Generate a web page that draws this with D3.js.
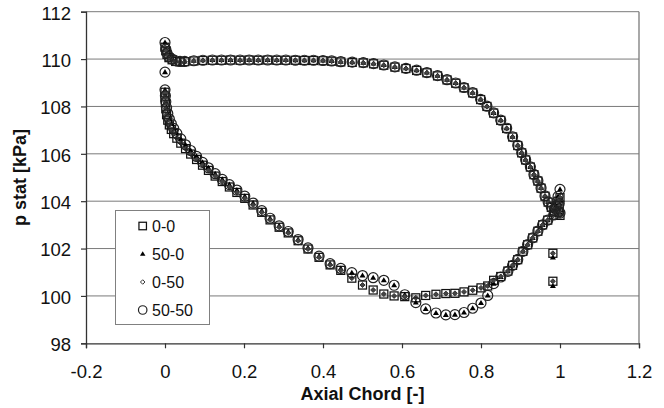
<!DOCTYPE html>
<html><head><meta charset="utf-8">
<script src="https://cdn.jsdelivr.net/npm/d3@7"></script>
<style>html,body{margin:0;padding:0;background:#fff;}svg{display:block;}</style>
</head><body>
<svg id="chart" width="664" height="408"></svg>
<script>
// ---------- data ----------
const seriesNames = ["0-0", "50-0", "0-50", "50-50"];
const xTicks = [-0.2, 0, 0.2, 0.4, 0.6, 0.8, 1, 1.2];
const xTickLabels = ["-0.2", "0", "0.2", "0.4", "0.6", "0.8", "1", "1.2"];
const yTicks = [98, 100, 102, 104, 106, 108, 110, 112];

// pressure side (upper branch) chord positions
const psX = [0.000,0.002,0.005,0.010,0.018,0.027,0.038,0.050,0.073,0.096,0.120,0.143,0.166,0.190,0.213,0.236,0.260,0.283,0.306,0.330,0.353,0.376,0.400,0.422,0.445,0.474,0.502,0.528,0.554,0.582,0.610,0.637,0.663,0.690,0.714,0.736,0.757,0.779,0.799,0.815,0.832,0.850,0.865,0.880,0.893,0.903,0.913,0.925,0.934,0.944,0.952,0.962,0.970,0.978,0.986];
// inlet 0 (series 0-0, 0-50)
const psYA = [110.50,110.35,110.20,110.06,109.97,109.90,109.88,109.89,109.92,109.94,109.95,109.95,109.96,109.95,109.96,109.95,109.96,109.95,109.95,109.95,109.94,109.94,109.93,109.91,109.88,109.86,109.84,109.80,109.74,109.66,109.60,109.52,109.42,109.29,109.12,108.98,108.79,108.57,108.29,108.00,107.72,107.41,107.07,106.71,106.35,106.04,105.74,105.44,105.12,104.85,104.55,104.21,103.96,103.74,103.58];
// inlet 50 (series 50-0, 50-50)
const psYB = [110.70,110.42,110.25,110.10,110.00,109.93,109.90,109.90,109.93,109.95,109.96,109.96,109.96,109.96,109.96,109.96,109.96,109.96,109.96,109.95,109.95,109.95,109.94,109.92,109.89,109.87,109.85,109.81,109.75,109.67,109.61,109.53,109.43,109.30,109.13,108.99,108.80,108.58,108.30,108.01,107.73,107.42,107.08,106.72,106.36,106.05,105.75,105.45,105.13,104.86,104.56,104.22,103.97,103.75,103.60];

// suction side (lower branch) chord positions
const ssX = [0.000,0.000,0.001,0.002,0.004,0.007,0.011,0.016,0.022,0.030,0.040,0.052,0.065,0.080,0.095,0.110,0.127,0.145,0.163,0.182,0.202,0.223,0.245,0.266,0.289,0.312,0.337,0.362,0.390,0.418,0.445,0.473,0.500,0.527,0.554,0.580,0.607,0.635,0.660,0.686,0.711,0.734,0.757,0.779,0.800,0.817,0.832,0.850,0.868,0.880,0.893,0.906,0.918,0.931,0.944,0.956,0.969,0.984,0.997];
const ssYA = [108.60,108.40,108.15,107.90,107.65,107.42,107.22,107.03,106.85,106.66,106.45,106.22,105.99,105.76,105.52,105.30,105.06,104.83,104.60,104.37,104.12,103.84,103.53,103.21,102.90,102.66,102.33,101.98,101.63,101.31,101.08,100.75,100.46,100.25,100.08,100.00,99.97,99.92,100.02,100.07,100.10,100.11,100.17,100.24,100.34,100.42,100.66,100.82,101.05,101.29,101.53,101.88,102.16,102.45,102.73,103.00,103.20,103.41,103.55];
const ssYB = [109.45,108.70,108.45,108.20,107.95,107.70,107.47,107.27,107.07,106.86,106.63,106.38,106.14,105.89,105.64,105.41,105.16,104.92,104.70,104.47,104.21,103.92,103.60,103.28,102.96,102.72,102.38,102.03,101.68,101.36,101.16,100.98,100.86,100.77,100.66,100.45,100.05,99.72,99.45,99.28,99.20,99.21,99.30,99.48,99.70,100.02,100.52,100.80,101.04,101.29,101.54,101.88,102.17,102.45,102.74,103.00,103.20,103.42,103.56];

// trailing edge cluster
const teX = [0.990,0.995,1.000,0.998,1.000];
const teYA = [103.70,104.00,104.15,103.80,103.40];
const teYB = [103.80,104.20,104.50,103.90,103.50];

// isolated trailing-edge taps
const isoX = [0.982,0.982];
const isoYA = [101.80,100.62];
const isoYB = [101.62,100.42];

// ---------- build series ----------
function pts(xs, ys){ return xs.map((x,i)=>({x:x, y:ys[i]})); }
const groupA = [].concat(pts(psX,psYA), pts(ssX,ssYA), pts(teX,teYA));
const groupB = [].concat(pts(psX,psYB), pts(ssX,ssYB), pts(teX,teYB));
const data = {
  "0-0":  groupA.concat(pts(isoX, isoYA)),
  "50-0": groupB.concat(pts(isoX, isoYB)),
  "0-50": groupA.concat(pts(isoX, isoYA)),
  "50-50": groupB
};

// ---------- layout ----------
const svg = d3.select("#chart");
const L = 86, R = 639, T = 11.7, B = 343.3;
const x = d3.scaleLinear().domain([-0.2, 1.2]).range([L, R]);
const y = d3.scaleLinear().domain([98, 112]).range([B, T]);
const font = "'Liberation Sans', Arial, sans-serif";

// gridlines
svg.append("g").selectAll("line").data(yTicks.filter(t=>t>98)).join("line")
  .attr("x1", L).attr("x2", R).attr("y1", d=>y(d)).attr("y2", d=>y(d))
  .attr("stroke", "#7a7a7a").attr("stroke-width", 1);
// right border
svg.append("line").attr("x1", R).attr("x2", R).attr("y1", T).attr("y2", B)
  .attr("stroke", "#7a7a7a").attr("stroke-width", 1.3);

// axes
const yAxis = d3.axisLeft(y).tickValues(yTicks).tickSize(5).tickFormat(d3.format("d"));
const xAxis = d3.axisBottom(x).tickValues(xTicks).tickSize(5).tickFormat((d,i)=> xTickLabels[i]);
const gy = svg.append("g").attr("transform", `translate(${L},0)`).call(yAxis);
const gx = svg.append("g").attr("transform", `translate(0,${B})`).call(xAxis);
[gy, gx].forEach(g=>{
  g.select(".domain").attr("stroke", "#333").attr("stroke-width", 1.3);
  g.selectAll(".tick line").attr("stroke", "#333").attr("stroke-width", 1.2);
  g.selectAll("text").attr("font-family", font).attr("font-size", "18.5px").attr("fill", "#111");
});
gy.selectAll(".tick text").attr("x", -15).attr("dy", "0.4em");
gx.selectAll(".tick text").attr("y", 22).attr("dy", "0.71em");

// axis titles
svg.append("text").attr("x", (L+R)/2).attr("y", 400).attr("text-anchor", "middle")
  .attr("font-family", font).attr("font-size", "18px").attr("font-weight", "bold").attr("fill", "#111")
  .text("Axial Chord [-]");
svg.append("text").attr("transform", `translate(26,${(T+B)/2}) rotate(-90)`).attr("text-anchor", "middle")
  .attr("font-family", font).attr("font-size", "18px").attr("font-weight", "bold").attr("fill", "#111")
  .text("p stat [kPa]");

// ---------- markers ----------
function drawMarker(g, type, cx, cy, s, diamondFill){
  if (type === "0-0") {
    g.append("rect").attr("x", cx - s/2).attr("y", cy - s/2).attr("width", s).attr("height", s)
      .attr("fill", "none").attr("stroke", "#111").attr("stroke-width", 1.25);
  } else if (type === "50-0") {
    const h = s*0.85;
    g.append("path").attr("d", `M${cx},${cy - h*0.6}L${cx + s/2},${cy + h*0.4}L${cx - s/2},${cy + h*0.4}Z`)
      .attr("fill", "#000").attr("stroke", "none");
  } else if (type === "0-50") {
    g.append("path").attr("d", `M${cx},${cy - s/2}L${cx + s/2},${cy}L${cx},${cy + s/2}L${cx - s/2},${cy}Z`)
      .attr("fill", diamondFill).attr("stroke", "#333").attr("stroke-width", 1);
  } else {
    g.append("circle").attr("cx", cx).attr("cy", cy).attr("r", s/2)
      .attr("fill", "none").attr("stroke", "#222").attr("stroke-width", 1.2);
  }
}
const sizes = {"0-0": 8, "50-0": 6, "0-50": 5, "50-50": 10};
const plot = svg.append("g");
seriesNames.forEach(name=>{
  const g = plot.append("g");
  data[name].forEach(d=> drawMarker(g, name, x(d.x), y(d.y), sizes[name], "#444"));
});

// ---------- legend ----------
const lg = svg.append("g");
lg.append("rect").attr("x", 115.5).attr("y", 210.5).attr("width", 94).attr("height", 114)
  .attr("fill", "#fff").attr("stroke", "#808080").attr("stroke-width", 1);
const legSizes = {"0-0": 7.5, "50-0": 5.5, "0-50": 4.5, "50-50": 8.5};
seriesNames.forEach((name, i)=>{
  const cy = 226 + i*28;
  drawMarker(lg, name, 142.7, cy, legSizes[name], "#fff");
  lg.append("text").attr("x", 152).attr("y", cy).attr("dy", "0.36em")
    .attr("font-family", font).attr("font-size", "16px").attr("fill", "#111").text(name);
});
</script>
</body></html>
